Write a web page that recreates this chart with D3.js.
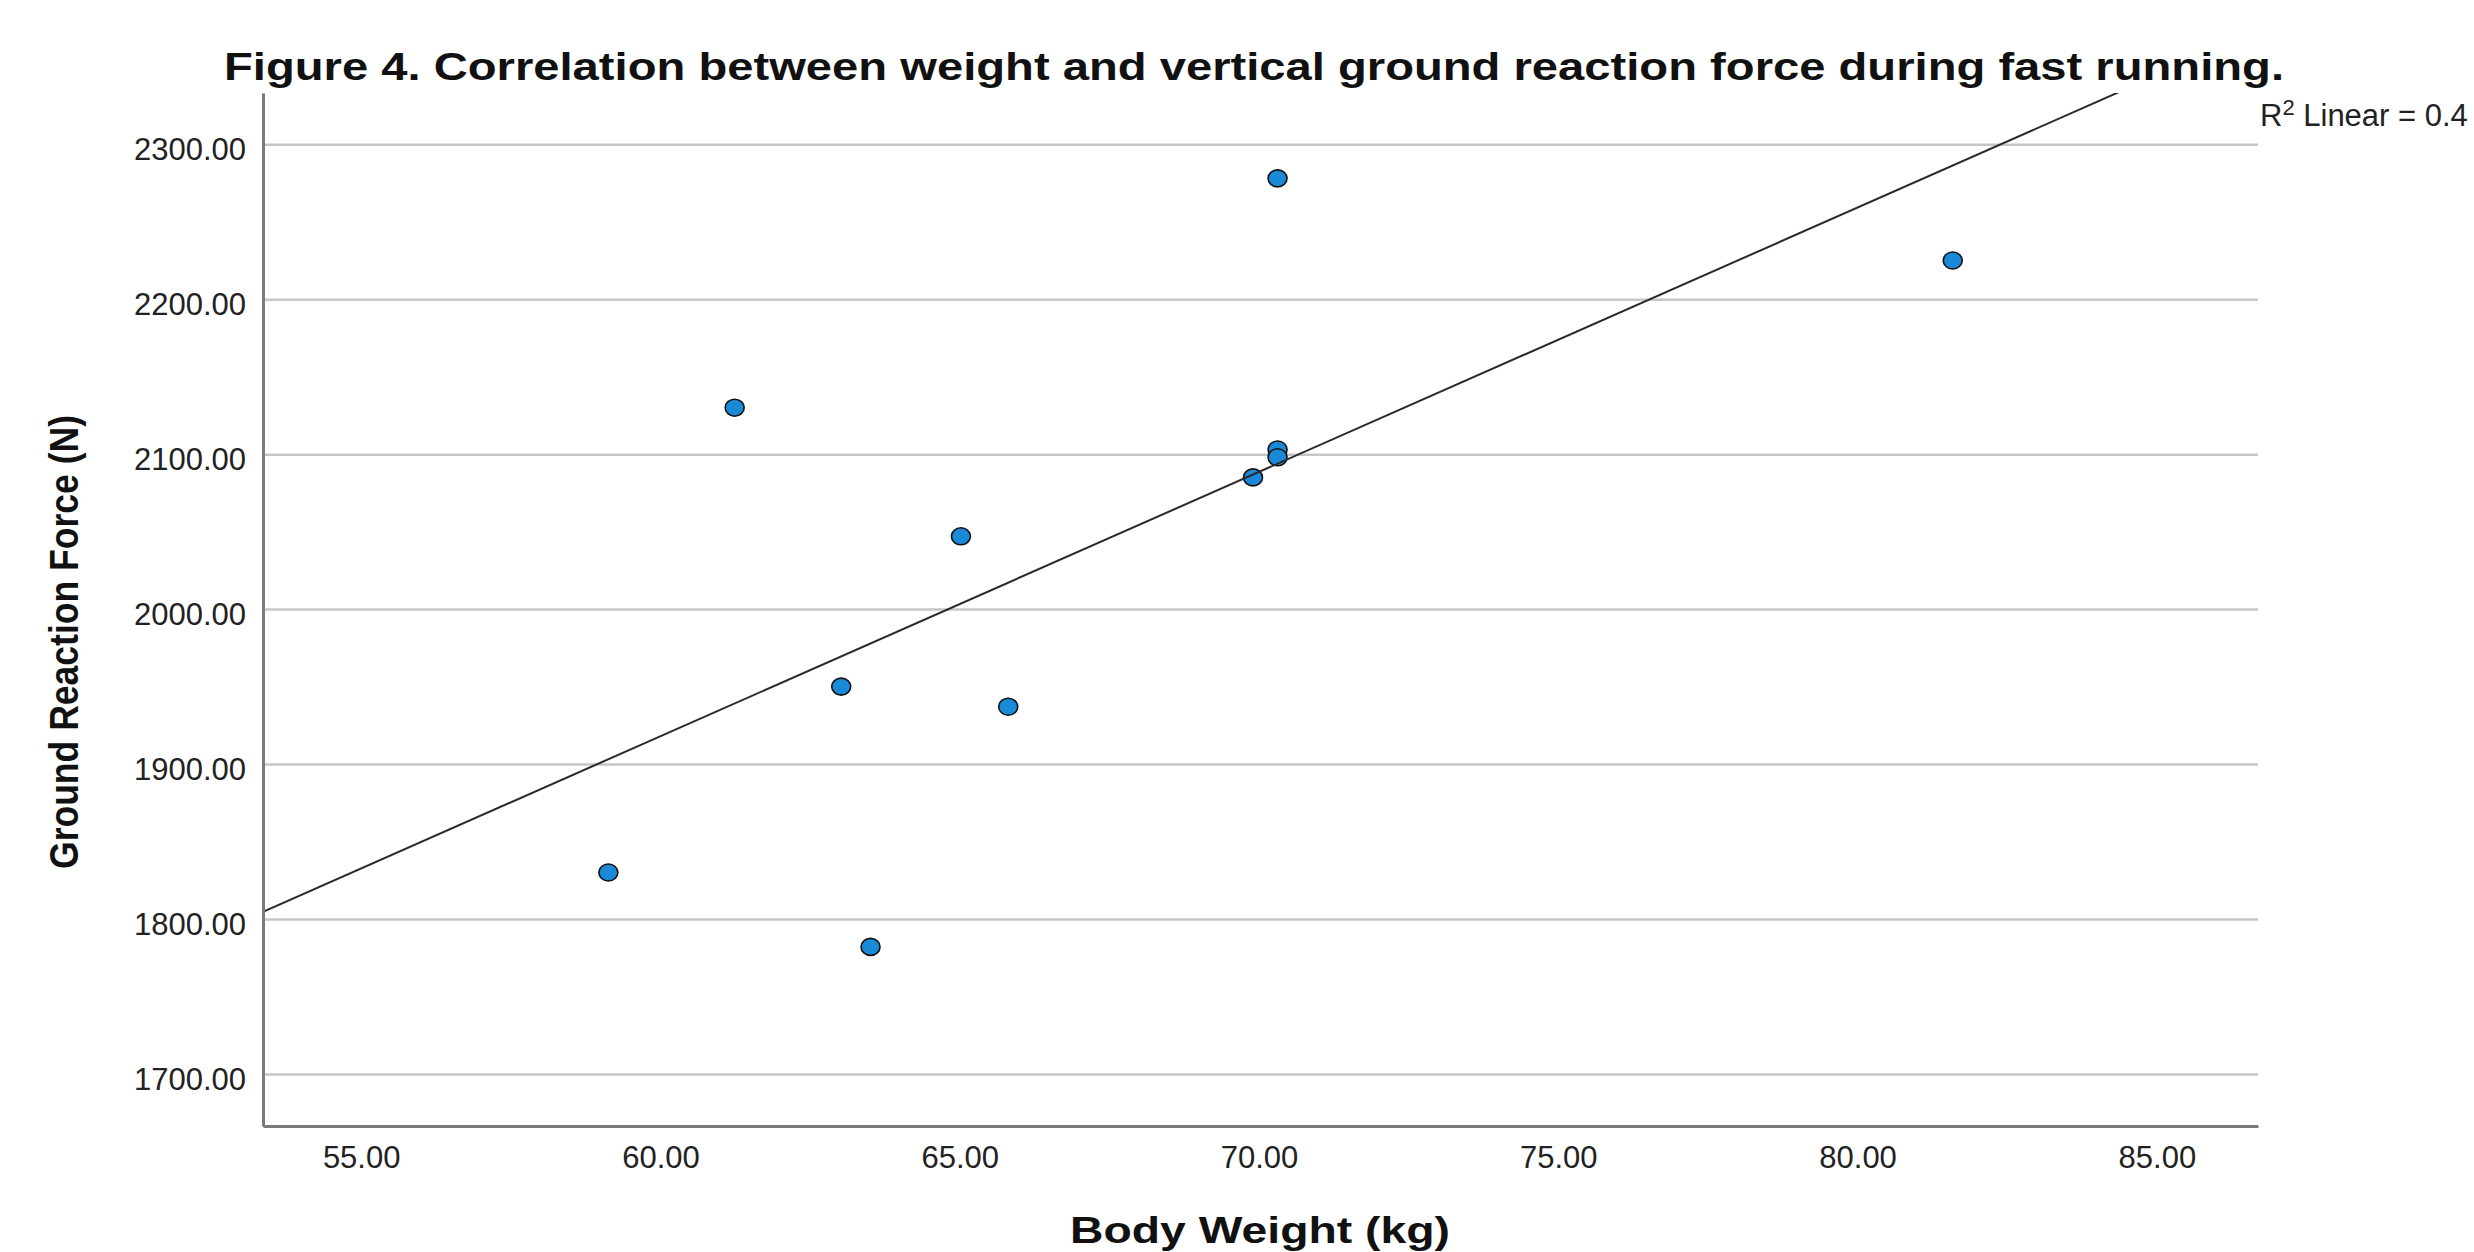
<!DOCTYPE html>
<html>
<head>
<meta charset="utf-8">
<script src="https://cdn.jsdelivr.net/npm/d3@7"></script>
<style>
  html, body { margin: 0; padding: 0; background: #fff; overflow: hidden; }
  svg { display: block; font-family: "Liberation Sans", Arial, sans-serif; }
</style>
</head>
<body>
<div id="chart"></div>
<script>
// body weight (kg) and vertical ground reaction force (N), one entry per runner
const weight = [59.13, 61.24, 63.02, 63.51, 65.02, 65.81, 69.90, 70.31, 70.31, 70.31, 81.59];
const grf    = [1830, 2130, 1950, 1782, 2047, 1937, 2085, 2103, 2098, 2278, 2225];

const xTicks = [55, 60, 65, 70, 75, 80, 85];
const yTicks = [1700, 1800, 1900, 2000, 2100, 2200, 2300];
const xDomain = [53.36, 86.69];
const yDomain = [1666.4, 2333.1];

const titleText = "Figure 4. Correlation between weight and vertical ground reaction force during fast running.";
const xTitle = "Body Weight (kg)";
const yTitle = "Ground Reaction Force (N)";
const fitLabel = ["R", "2", " Linear = 0.4"];

const W = 2474, H = 1252;
const plot = {left: 263, right: 2258, top: 93, bottom: 1126};

const svg = d3.select("#chart").append("svg")
    .attr("width", W).attr("height", H);

const x = d3.scaleLinear().domain(xDomain).range([plot.left, plot.right]);
const y = d3.scaleLinear().domain(yDomain).range([plot.bottom, plot.top]);

// horizontal gridlines
const grid = svg.append("g")
    .attr("transform", `translate(${plot.left},0)`)
    .call(d3.axisLeft(y).tickValues(yTicks).tickSize(-(plot.right - plot.left)).tickFormat(""));
grid.select(".domain").remove();
grid.selectAll("line").attr("stroke", "#c6c6c6").attr("stroke-width", 2.5);

// least squares fit
const data = weight.map((w, i) => [w, grf[i]]);
const mx = d3.mean(weight), my = d3.mean(grf);
const slope = d3.sum(data, d => (d[0] - mx) * (d[1] - my)) / d3.sum(data, d => (d[0] - mx) ** 2);
const icpt = my - slope * mx;

svg.append("clipPath").attr("id", "plotclip")
  .append("rect")
    .attr("x", plot.left).attr("y", plot.top)
    .attr("width", plot.right - plot.left).attr("height", plot.bottom - plot.top);

// points
svg.append("g").selectAll("ellipse")
  .data(data)
  .join("ellipse")
    .attr("cx", d => x(d[0]))
    .attr("cy", d => y(d[1]))
    .attr("rx", 9.5).attr("ry", 8.5)
    .attr("fill", "#1a8ad8")
    .attr("stroke", "#111")
    .attr("stroke-width", 1.6);

// fit line, drawn over the points like SPSS does
svg.append("line")
    .attr("clip-path", "url(#plotclip)")
    .attr("x1", x(xDomain[0])).attr("y1", y(icpt + slope * xDomain[0]))
    .attr("x2", x(xDomain[1])).attr("y2", y(icpt + slope * xDomain[1]))
    .attr("stroke", "#2a2a2a")
    .attr("stroke-width", 2);

// axes
const fmt = d3.format(".2f");
const xAxis = svg.append("g")
    .attr("transform", `translate(0,${plot.bottom})`)
    .call(d3.axisBottom(x).tickValues(xTicks).tickFormat(fmt).tickSize(0).tickPadding(20));
const yAxis = svg.append("g")
    .attr("transform", `translate(${plot.left},0)`)
    .call(d3.axisLeft(y).tickValues(yTicks).tickFormat(fmt).tickSize(0).tickPadding(17));

[xAxis, yAxis].forEach(a => {
  a.select(".domain").attr("stroke", "#7a7a7a").attr("stroke-width", 3);
  a.selectAll("text")
    .attr("font-family", "'Liberation Sans', Arial, sans-serif")
    .attr("font-size", 31)
    .attr("fill", "#222");
});
yAxis.selectAll("text").attr("dy", "0.5em");

// titles
svg.append("text")
    .attr("x", 224).attr("y", 80)
    .attr("font-size", 38).attr("font-weight", "bold").attr("fill", "#111")
    .attr("textLength", 2060).attr("lengthAdjust", "spacingAndGlyphs")
    .text(titleText);

svg.append("text")
    .attr("x", 1070).attr("y", 1243)
    .attr("font-size", 37).attr("font-weight", "bold").attr("fill", "#111")
    .attr("textLength", 380).attr("lengthAdjust", "spacingAndGlyphs")
    .text(xTitle);

svg.append("text")
    .attr("transform", "translate(78,642) rotate(-90)")
    .attr("text-anchor", "middle")
    .attr("font-size", 41).attr("font-weight", "bold").attr("fill", "#111")
    .attr("textLength", 454).attr("lengthAdjust", "spacingAndGlyphs")
    .text(yTitle);

// R squared label
const r2 = svg.append("text")
    .attr("x", 2260).attr("y", 126)
    .attr("font-size", 31).attr("fill", "#222");
r2.append("tspan").text(fitLabel[0]);
r2.append("tspan").attr("font-size", 22).attr("dy", -11).text(fitLabel[1]);
r2.append("tspan").attr("dy", 11).text(fitLabel[2]);
</script>
</body>
</html>
